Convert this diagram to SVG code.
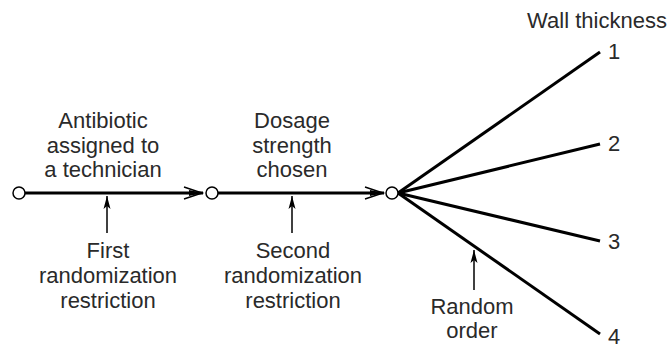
<svg xmlns="http://www.w3.org/2000/svg" width="671" height="352" viewBox="0 0 671 352">
<style>
text{font-family:"Liberation Sans",Arial,sans-serif;font-size:22px;fill:#2a2a2a;text-anchor:middle}
.thick{stroke:#000;stroke-width:3;fill:none}
.thin{stroke:#000;stroke-width:1.5;fill:none}
.node{fill:#fff;stroke:#000;stroke-width:1.5}
</style>
<defs>
<marker id="up" viewBox="-14 -5 15 10" markerWidth="15" markerHeight="10" refX="0" refY="0" orient="auto" markerUnits="userSpaceOnUse">
<path d="M0,0 L-13,-3.5 L-10,0 L-13,3.5 Z" fill="#000"/>
</marker>
</defs>
<g id="connectors">
<line class="thick" x1="25" y1="193" x2="203" y2="193"/>
<path class="thin" d="M184,187 L202,193 L184,199"/>
<path d="M189,190 L203,193 L189,196 Z" fill="#000"/>
<line class="thick" x1="218" y1="193" x2="384" y2="193"/>
<path class="thin" d="M365,187 L383,193 L365,199"/>
<path d="M370,190 L384,193 L370,196 Z" fill="#000"/>
<line class="thick" x1="398" y1="193" x2="600" y2="52"/>
<line class="thick" x1="398" y1="193" x2="600" y2="144"/>
<line class="thick" x1="398" y1="193" x2="600" y2="241"/>
<line class="thick" x1="398" y1="193" x2="600" y2="334"/>
<line class="thin" x1="107" y1="233" x2="107" y2="196" marker-end="url(#up)"/>
<line class="thin" x1="292" y1="233" x2="292" y2="196" marker-end="url(#up)"/>
<line class="thin" x1="474" y1="290" x2="474" y2="250" marker-end="url(#up)"/>
</g>
<g id="node-start"><circle class="node" cx="19" cy="193" r="6"/></g>
<g id="node-antibiotic"><circle class="node" cx="212" cy="193" r="6"/></g>
<g id="node-dosage"><circle class="node" cx="392" cy="193" r="6"/></g>
<g id="label-antibiotic">
<text x="103" y="128">Antibiotic</text>
<text x="103" y="153">assigned to</text>
<text x="103" y="177">a technician</text>
</g>
<g id="label-dosage">
<text x="292" y="128">Dosage</text>
<text x="292" y="153">strength</text>
<text x="292" y="177">chosen</text>
</g>
<g id="label-first">
<text x="108" y="258">First</text>
<text x="108" y="283">randomization</text>
<text x="108" y="308">restriction</text>
</g>
<g id="label-second">
<text x="293" y="258">Second</text>
<text x="293" y="283">randomization</text>
<text x="293" y="308">restriction</text>
</g>
<g id="label-random">
<text x="472" y="314">Random</text>
<text x="472" y="338">order</text>
</g>
<g id="label-wall">
<text x="597" y="28">Wall thickness</text>
<text x="614" y="59">1</text>
<text x="614" y="151">2</text>
<text x="614" y="249">3</text>
<text x="614" y="344">4</text>
</g>
</svg>
